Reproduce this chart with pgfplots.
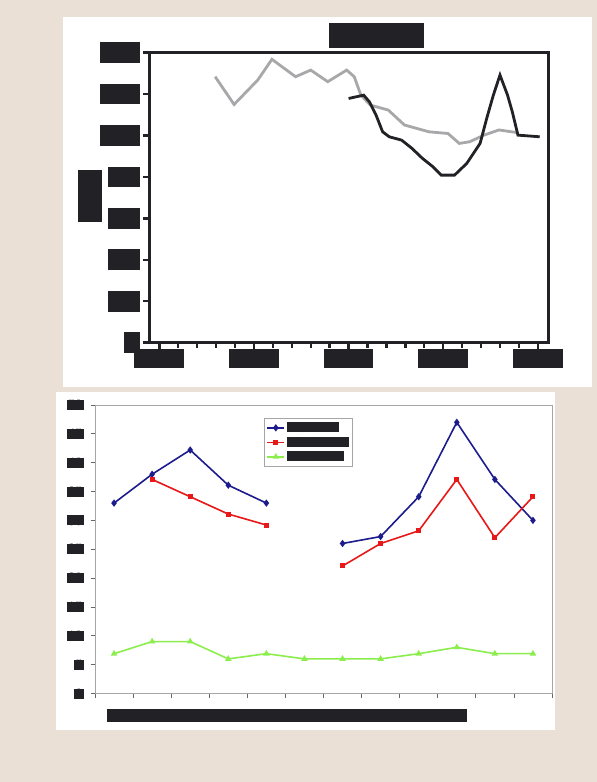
\documentclass[border=0pt]{standalone}
\usepackage{pgfplots}
\pgfplotsset{compat=1.18}
\definecolor{bg}{HTML}{EAE0D6}
\definecolor{rb}{HTML}{222226}
\definecolor{gline}{HTML}{A8A8AA}
\definecolor{cblue}{HTML}{1C1C8C}
\definecolor{cred}{HTML}{E81818}
\definecolor{cgreen}{HTML}{8CEE4C}
\newcommand{\redact}[3]{{\setlength{\fboxsep}{0pt}\colorbox{rb}{\makebox[#1]{\rule{0pt}{#2}\color{rb}\tiny #3}}}}
\begin{document}
\begin{tikzpicture}
\path[use as bounding box, fill=bg] (0pt,0pt) rectangle (597pt,782pt);
\fill[white] (63pt,395pt) rectangle (592pt,765pt);
\fill[white] (56pt,52pt) rectangle (555pt,389.5pt);

\begin{axis}[at={(149.4pt,439.3pt)}, anchor=south west, scale only axis,
  width=399.3pt, height=290pt,
  xmin=1948.95, xmax=1991.15, ymin=0, ymax=1400,
  xtick={1950,1960,...,1990}, minor x tick num=4, ytick={0,200,...,1400},
  tick pos=left, tick align=outside, major tick length=6pt, minor tick length=5pt,
  tick style={rb, line width=2.4pt},
  axis line style={rb, line width=2.7pt},
  /pgf/number format/1000 sep={},
  yticklabel style={fill=rb, text=rb, font=\fontsize{17}{17}\selectfont, inner xsep=4pt, inner ysep=0pt, minimum height=20.7pt, xshift=-3.5pt},
  xticklabel style={fill=rb, text=rb, font=\fontsize{17}{17}\selectfont, inner xsep=9pt, inner ysep=0pt, minimum height=19pt},
]
\addplot[gline, line width=2.8pt, mark=none] coordinates {
(1955.9,1284) (1957.9,1150) (1960.4,1268) (1961.9,1368) (1964.4,1284)
(1966.0,1316) (1967.8,1260) (1969.8,1316) (1970.6,1284) (1971.3,1195)
(1972.3,1147) (1974.2,1123) (1975.9,1051) (1978.5,1018) (1980.5,1010)
(1981.7,962) (1982.8,970) (1984.3,1002) (1985.9,1027) (1987.7,1015)
};
\addplot[rb, line width=2.8pt, mark=none] coordinates {
(1970.0,1179) (1971.6,1195) (1972.2,1163) (1972.9,1099) (1973.6,1018)
(1974.3,994) (1975.6,978) (1976.7,938) (1977.8,890) (1978.9,850)
(1979.8,809) (1981.2,809) (1982.5,866) (1983.9,962) (1984.6,1083)
(1985.3,1195) (1986.0,1292) (1986.8,1195) (1987.3,1115) (1987.9,1002)
(1990.2,994)
};
\end{axis}

\node[fill=rb, text=rb, minimum width=95pt, minimum height=24.4pt, inner sep=0pt, font=\bfseries] at (376.4pt,746.5pt) {Title};
\node[fill=rb, text=rb, minimum width=52pt, minimum height=24pt, inner sep=0pt, rotate=90, font=\bfseries] at (89.5pt,586pt) {Value};
\node[fill=rb, text=rb, minimum width=360pt, minimum height=12.3pt, inner sep=0pt, font=\scriptsize] at (286.7pt,66.5pt) {Category axis title};

\begin{axis}[at={(95pt,88.5pt)}, anchor=south west, scale only axis,
  width=457pt, height=288.5pt,
  xmin=0.5, xmax=12.5, ymin=0, ymax=50,
  xtick={0.5,1.5,...,12.5}, xticklabels={}, ytick={0,5,...,50},
  tick pos=left, tick align=outside, major tick length=4.5pt,
  tick style={gray!80!black, line width=0.8pt},
  axis line style={gray!70, line width=0.9pt},
  unbounded coords=jump,
  yticklabel style={fill=rb, text=rb, font=\fontsize{14}{14}\selectfont, inner xsep=1.3pt, inner ysep=0pt, minimum height=10pt, xshift=-6.7pt},
  legend style={at={(0.37,0.956)}, anchor=north west, draw=gray!70, line width=0.8pt, font=\tiny, row sep=-1pt, inner sep=2pt},
  legend cell align=left,
]
\addplot[cblue, line width=1.6pt, mark=diamond*, mark size=2.4pt] coordinates {
(1,33) (2,38) (3,42.2) (4,36.1) (5,33) (6,nan) (7,26) (8,27.2) (9,34.1) (10,47) (11,37.1) (12,30)
};
\addlegendentry{\redact{51.7pt}{10pt}{Series 1}}
\addplot[cred, line width=1.6pt, mark=square*, mark size=1.7pt] coordinates {
(2,37.1) (3,34.1) (4,31.1) (5,29.2) (6,nan) (7,22.1) (8,26) (9,28.2) (10,37.1) (11,27) (12,34.1)
};
\addlegendentry{\redact{61.7pt}{10pt}{Series 2}}
\addplot[cgreen, line width=1.6pt, mark=triangle*, mark size=2.2pt] coordinates {
(1,6.9) (2,9) (3,9) (4,6) (5,6.9) (6,6) (7,6) (8,6) (9,6.9) (10,8) (11,6.9) (12,6.9)
};
\addlegendentry{\redact{57.3pt}{10pt}{Series 3}}
\end{axis}
\end{tikzpicture}
\end{document}
